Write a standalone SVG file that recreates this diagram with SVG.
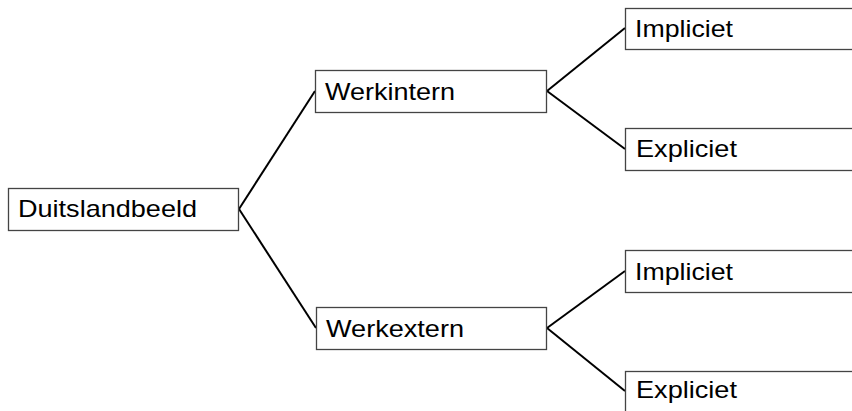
<svg xmlns="http://www.w3.org/2000/svg" width="852" height="411" viewBox="0 0 852 411">
<style>
.box{fill:#fff;stroke:#444;stroke-width:1.3}
.lbl{font-family:"Liberation Sans",Arial,sans-serif;font-size:24px;fill:#000}
.ln{stroke:#000;stroke-width:2;fill:none}
</style>
<rect width="852" height="411" fill="#fff"/>
<g id="connectors">
<line class="ln" x1="239" y1="209" x2="315" y2="91"/>
<line class="ln" x1="239" y1="209" x2="316" y2="328"/>
<line class="ln" x1="547" y1="91" x2="625" y2="28"/>
<line class="ln" x1="547" y1="91" x2="625" y2="149"/>
<line class="ln" x1="547" y1="328" x2="625" y2="271"/>
<line class="ln" x1="547" y1="328" x2="625" y2="391"/>
</g>
<g id="duitslandbeeld">
<rect class="box" x="8.5" y="188.5" width="230" height="42"/>
<text class="lbl" x="18" y="217" textLength="179" lengthAdjust="spacingAndGlyphs">Duitslandbeeld</text>
</g>
<g id="werkintern">
<rect class="box" x="315.5" y="70.5" width="231" height="42"/>
<text class="lbl" x="325" y="100" textLength="130" lengthAdjust="spacingAndGlyphs">Werkintern</text>
</g>
<g id="werkextern">
<rect class="box" x="316.5" y="307.5" width="230" height="42"/>
<text class="lbl" x="326" y="337" textLength="138" lengthAdjust="spacingAndGlyphs">Werkextern</text>
</g>
<g id="impliciet1">
<rect class="box" x="625.5" y="8.5" width="240" height="41"/>
<text class="lbl" x="635" y="37" textLength="98" lengthAdjust="spacingAndGlyphs">Impliciet</text>
</g>
<g id="expliciet1">
<rect class="box" x="625.5" y="128.5" width="240" height="42"/>
<text class="lbl" x="636" y="157" textLength="101" lengthAdjust="spacingAndGlyphs">Expliciet</text>
</g>
<g id="impliciet2">
<rect class="box" x="625.5" y="250.5" width="240" height="42"/>
<text class="lbl" x="635" y="280" textLength="98" lengthAdjust="spacingAndGlyphs">Impliciet</text>
</g>
<g id="expliciet2">
<rect class="box" x="625.5" y="371.5" width="240" height="50"/>
<text class="lbl" x="636" y="398" textLength="101" lengthAdjust="spacingAndGlyphs">Expliciet</text>
</g>
</svg>
